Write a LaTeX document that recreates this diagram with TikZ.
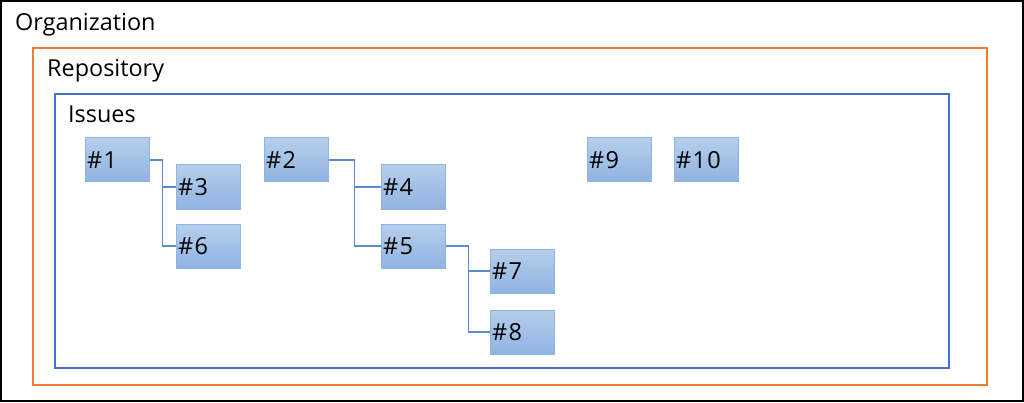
\documentclass[tikz,border=0pt]{standalone}
\usepackage{fontspec}
\setmainfont{Open Sans}
\usetikzlibrary{calc}

\definecolor{orgFrame}{RGB}{0,0,0}
\definecolor{repoFrame}{RGB}{237,125,49}
\definecolor{issueFrame}{RGB}{68,114,196}
\definecolor{issueTop}{RGB}{182,206,236}
\definecolor{issueBottom}{RGB}{143,179,225}
\definecolor{issueBorder}{RGB}{141,180,227}
\definecolor{linkColor}{RGB}{91,139,208}

\begin{document}
\begin{tikzpicture}[x=1pt,y=1pt]

  \tikzstyle{frame} = [line width=2pt];
  \tikzstyle{frameLabel} = [anchor=base west, inner sep=0pt, font={\fontsize{23.4}{27}\selectfont}];
  \tikzstyle{issue} = [draw=issueBorder, line width=1pt, top color=issueTop, bottom color=issueBottom, rectangle, minimum height=44pt, minimum width=64pt, text width=60pt, inner sep=2pt, align=left, node distance=59pt, font={\fontsize{23.5}{26}\selectfont\addfontfeatures{LetterSpace=6}}];
  \tikzstyle{link} = [linkColor, line width=1.2pt];

  \useasboundingbox (0,0) rectangle (1024,402);

  % Frames: organization, repository, issues
  \draw[frame, draw=orgFrame] (1,1) rectangle (1023,401);
  \draw[frame, draw=repoFrame] (33,17) rectangle (987,354);
  \draw[frame, draw=issueFrame] (55,34) rectangle (949,308);
  \node[frameLabel, name=orgLabel] at (15,371) {Organization};
  \node[frameLabel, name=repoLabel] at (47,325) {Repository};
  \node[frameLabel, name=issueLabel] at (68,279) {Issues};

  % Issues
  \node[issue, name=one] at (117,242) {\#1};
  \node[issue, name=three, right of=one, xshift=32pt, yshift=-27pt] {\#3};
  \node[issue, name=six, below of=three] {\#6};
  \node[issue, name=two, right of=one, xshift=120pt] {\#2};
  \node[issue, name=four, right of=two, xshift=58pt, yshift=-27pt] {\#4};
  \node[issue, name=five, below of=four] {\#5};
  \node[issue, name=seven, right of=five, xshift=50pt, yshift=-25pt] {\#7};
  \node[issue, name=eight, below of=seven, yshift=-2pt] {\#8};
  \node[issue, name=nine, right of=two, xshift=264pt] {\#9};
  \node[issue, name=ten, right of=nine, xshift=28pt] {\#10};

  % #1 has children #3 and #6
  \coordinate (oneBranch) at ($(one.east) + (13pt,0)$);
  \draw[link] (one.east) -- (oneBranch) |- (six.west);
  \draw[link] (oneBranch |- three.west) -- (three.west);

  % #2 has children #4 and #5
  \coordinate (twoBranch) at ($(two.east) + (26pt,0)$);
  \draw[link] (two.east) -- (twoBranch) |- (five.west);
  \draw[link] (twoBranch |- four.west) -- (four.west);

  % #5 has children #7 and #8
  \coordinate (fiveBranch) at ($(five.east) + (23pt,0)$);
  \draw[link] (five.east) -- (fiveBranch) |- (eight.west);
  \draw[link] (fiveBranch |- seven.west) -- (seven.west);

\end{tikzpicture}
\end{document}
